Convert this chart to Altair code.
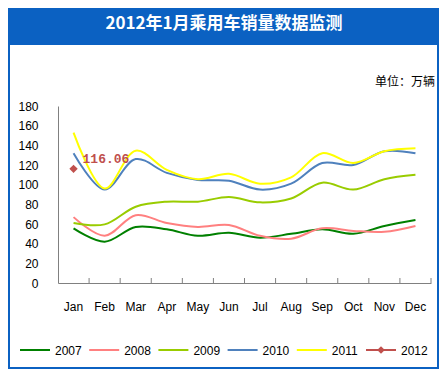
import altair as alt
import pandas as pd

months = ["Jan", "Feb", "Mar", "Apr", "May", "Jun", "Jul", "Aug", "Sep", "Oct", "Nov", "Dec"]
series_names = ["2007", "2008", "2009", "2010", "2011", "2012"]
s2007 = [55.6, 42, 57, 54.6, 48, 51, 46, 50, 54.6, 50, 58, 64]
s2008 = [67, 48, 69, 61, 57, 59, 48, 45, 55.6, 53, 52, 58]
s2009 = [61, 59.6, 77.6, 82.7, 82.7, 87.5, 82, 86, 102, 95, 105.5, 110]
s2010 = [132, 95, 126, 112, 104.8, 104, 95, 101, 122, 120, 134, 132]
s2011 = [153, 96, 134.6, 115, 105.5, 111, 101, 107.5, 132, 122, 134, 137]
s2012 = [116.06]
colors = ["#008000", "#FF8080", "#99CC00", "#4F81BD", "#FFFF00", "#C0504D"]
y_ticks = [0, 20, 40, 60, 80, 100, 120, 140, 160, 180]

title_text = "2012年1月乘用车销量数据监测"
unit_text = "单位：万辆"

rows = []
for name, vals in zip(series_names[:5], [s2007, s2008, s2009, s2010, s2011]):
    for m, v in zip(months, vals):
        rows.append({"month": m, "value": v, "series": name})
df = pd.DataFrame(rows)
df12 = pd.DataFrame({"month": months[:len(s2012)], "value": s2012, "series": "2012"})
df12["label"] = [f"{v:.2f}" for v in s2012]
ticks_df = pd.DataFrame({"month": months})
leg_df = pd.DataFrame({"series": series_names, "i": list(range(len(series_names)))})

xscale = alt.Scale(type="band", domain=months, paddingInner=0, paddingOuter=0)
yscale = alt.Scale(domain=[0, 180])
cscale = alt.Scale(domain=series_names, range=colors)

xaxis = alt.Axis(title=None, labelAngle=0, tickSize=0, labelPadding=18, zindex=2,
                 domainColor="#808080", labelFont="Liberation Sans",
                 labelFontSize=12, labelColor="#000000")
xenc = alt.X("month:N", scale=xscale, bandPosition=0.5, axis=xaxis)
yenc = alt.Y("value:Q", scale=yscale,
             axis=alt.Axis(title=None, values=y_ticks, tickSize=0, labelPadding=20, grid=False,
                           zindex=2, domainColor="#808080", labelFont="Liberation Sans",
                           labelFontSize=12, labelColor="#000000"))

one = alt.Data(values=[{}])

panel = alt.Chart(one).mark_rect(color="white").encode(
    x=alt.value(-48), x2=alt.value(379), y=alt.value(-61), y2=alt.value(261))

title = alt.Chart(one).mark_text(
    text=title_text, color="white", font="Noto Sans CJK SC", fontSize=17,
    fontWeight="bold", align="center", baseline="middle").encode(
    x=alt.value(166), y=alt.value(-82))

unit = alt.Chart(one).mark_text(
    text=unit_text, color="black", font="Noto Sans CJK SC", fontSize=12,
    align="right", baseline="middle").encode(
    x=alt.value(377), y=alt.value(-24))

ticks = alt.Chart(ticks_df).mark_rule(color="#808080").encode(
    x=alt.X("month:N", scale=xscale, bandPosition=1, axis=xaxis),
    y=alt.value(172), y2=alt.value(177))

lines = alt.Chart(df).mark_line(interpolate="catmull-rom", strokeWidth=2).encode(
    x=xenc, y=yenc,
    color=alt.Color("series:N", scale=cscale, legend=None),
    strokeWidth=alt.condition(alt.datum.series == "2007", alt.value(3), alt.value(2)),
)

pt12 = alt.Chart(df12).mark_point(shape="diamond", filled=True, size=70, opacity=1).encode(
    x=xenc, y=yenc, color=alt.Color("series:N", scale=cscale, legend=None))

lab12 = alt.Chart(df12).mark_text(
    align="left", baseline="middle", dx=9, dy=-10, font="Liberation Mono",
    fontSize=13, fontWeight="bold", color="#C0504D").encode(
    x=xenc, y=yenc, text="label:N")

leg_base = alt.Chart(leg_df).transform_calculate(
    x0="-38 + 69.2 * datum.i", x1="-38 + 69.2 * datum.i + 30",
    xm="-38 + 69.2 * datum.i + 15", xt="-38 + 69.2 * datum.i + 35")
leg_lines = leg_base.mark_rule(strokeWidth=2).encode(
    x=alt.X("x0:Q", scale=None), x2="x1:Q", y=alt.value(244),
    color=alt.Color("series:N", scale=cscale, legend=None))
leg_pt = leg_base.transform_filter(alt.datum.series == "2012").mark_point(
    shape="diamond", filled=True, size=60, opacity=1).encode(
    x=alt.X("xm:Q", scale=None), y=alt.value(244),
    color=alt.Color("series:N", scale=cscale, legend=None))
leg_txt = leg_base.mark_text(align="left", baseline="middle", font="Liberation Sans",
                             fontSize=12, color="black").encode(
    x=alt.X("xt:Q", scale=None), y=alt.value(245), text="series:N")

chart = alt.layer(panel, title, unit, ticks, lines, pt12, lab12, leg_lines, leg_pt, leg_txt).properties(
    width=373, height=177,
    padding={"left": 50, "top": 98, "right": 8, "bottom": 86},
    autosize=alt.AutoSizeParams(type="none"),
    background="#0B61C2",
).configure_view(strokeWidth=0)

chart.save("out.html", embed_options={"renderer": "svg", "actions": False})
